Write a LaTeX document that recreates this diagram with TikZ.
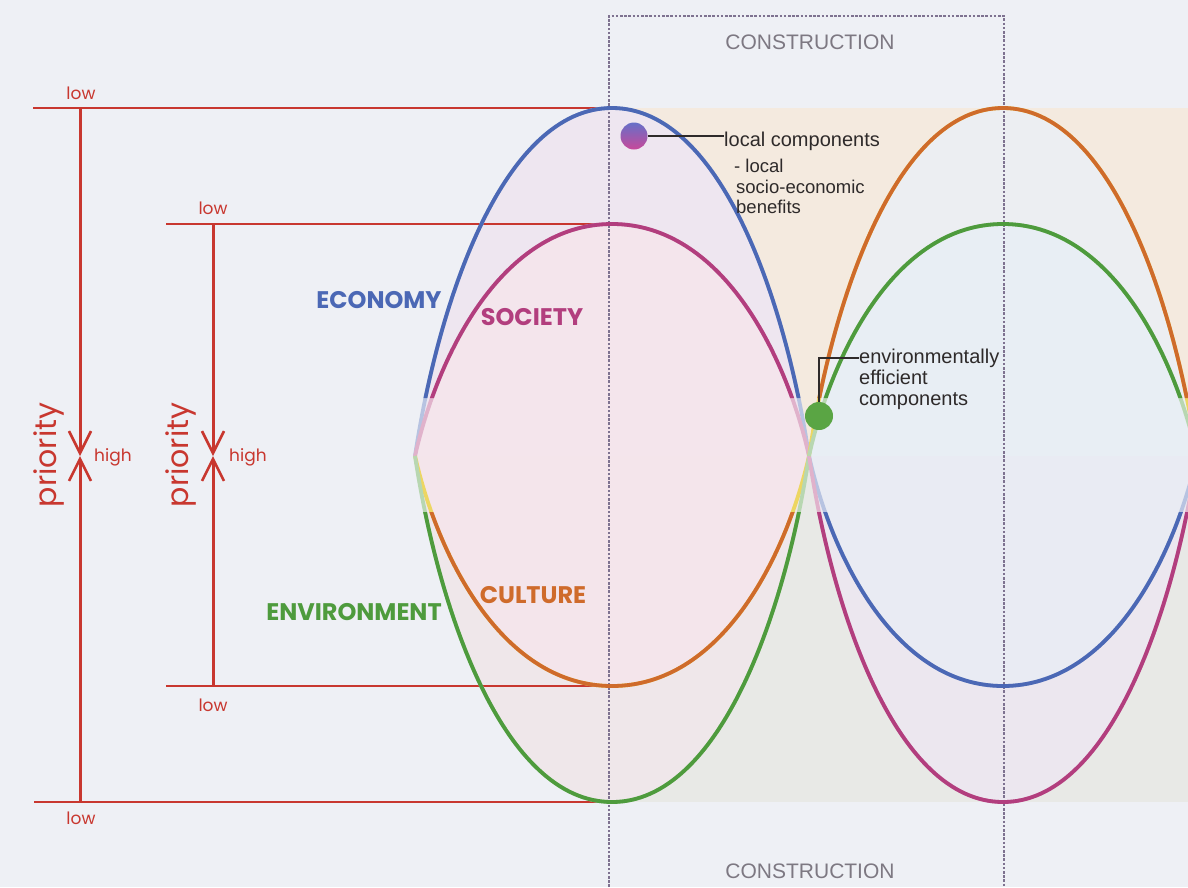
\documentclass[tikz,border=0pt]{standalone}
\usepackage{fontspec}
\setmainfont{Liberation Sans}
\newfontfamily\gothic{Poppins}
\usetikzlibrary{arrows.meta}
\definecolor{cBg}{HTML}{EEF0F5}
\definecolor{cPeach}{HTML}{F4EADF}
\definecolor{cLower}{HTML}{E8E9E6}
\definecolor{cPinkA}{HTML}{EEE6F0}
\definecolor{cPinkB}{HTML}{F4E5EC}
\definecolor{cLowA}{HTML}{EFE7EA}
\definecolor{cLowB}{HTML}{F4E5EB}
\definecolor{cRTopA}{HTML}{ECEEF2}
\definecolor{cRTopB}{HTML}{E8EEF4}
\definecolor{cRLowA}{HTML}{ECE7EF}
\definecolor{cRLowB}{HTML}{E9EBF3}
\definecolor{cRed}{HTML}{C8372F}
\definecolor{cBlue}{HTML}{4B68B5}
\definecolor{cMag}{HTML}{B23E7E}
\definecolor{cOra}{HTML}{CF6B2B}
\definecolor{cGre}{HTML}{4E9B3D}
\definecolor{cFrame}{HTML}{7E7290}
\definecolor{cGrayTxt}{HTML}{7D7882}
\definecolor{cDark}{HTML}{2E2A2A}
\definecolor{cDotTop}{HTML}{6670C8}
\definecolor{cDotBot}{HTML}{C8489A}
\definecolor{cDotGre}{HTML}{5AA544}
\begin{document}
\begin{tikzpicture}[x=1pt,y=-1pt,
  redline/.style={draw=cRed, line width=2.6pt},
  axisarrow/.style={draw=cRed, line width=3pt, -{Straight Barb[length=22pt,width=22pt,line width=2.6pt]}},
  lobe/.style n args={3}{insert path={(#1,456) .. controls ({#1+0.12*#2},{456+0.45*(#3-456)}) and ({#1+0.45*#2},#3) .. ({#1+#2},#3) .. controls ({#1+1.55*#2},#3) and ({#1+1.88*#2},{456+0.45*(#3-456)}) .. ({#1+2*#2},456)}},
  wave/.style={line width=3.8pt},
  frameline/.style={draw=cFrame, line width=2.4pt, dash pattern=on 2.6pt off 1.6pt},
  lowlbl/.style={text=cRed, font=\gothic\fontsize{17}{20}\selectfont, inner sep=0pt},
  prio/.style={text=cRed, font=\gothic\fontsize{30}{34}\selectfont, inner sep=0pt, rotate=90},
  dimlbl/.style={font=\gothic\bfseries\fontsize{24}{28}\selectfont, inner sep=0pt},
  constr/.style={text=cGrayTxt, font=\fontsize{21}{24}\selectfont, inner sep=0pt},
  note/.style={text=cDark, font=\fontsize{20}{23}\selectfont, inner sep=0pt, anchor=base west},
  subnote/.style={text=cDark, font=\fontsize{18.5}{21}\selectfont, inner sep=0pt, anchor=base west},
  leader/.style={draw=cDark, line width=1.4pt}
]
\useasboundingbox (0,0) rectangle (1188,887);
\clip (0,0) rectangle (1188,887);
% background tints
\fill[cBg] (0,0) rectangle (1188,887);
\fill[cPeach] (612,108) rectangle (1188,456);
\fill[cLower] (612,456) rectangle (1188,802);
\fill[cPinkA, lobe={415}{197}{108}] -- cycle;
\fill[cPinkB, lobe={415}{197}{224}] -- cycle;
\fill[cLowA, lobe={415}{197}{802}] -- cycle;
\fill[cLowB, lobe={415}{197}{686}] -- cycle;
\fill[cRTopA, lobe={809}{194}{108}] -- cycle;
\fill[cRTopB, lobe={809}{194}{224}] -- cycle;
\fill[cRLowA, lobe={809}{194}{802}] -- cycle;
\fill[cRLowB, lobe={809}{194}{686}] -- cycle;

% construction frame
\coordinate (fbl) at (609,887);
\coordinate (ftl) at (609,16);
\coordinate (ftr) at (1004,16);
\coordinate (fbr) at (1004,887);
\draw[frameline] (fbl) -- (ftl) -- (ftr) -- (fbr);
\node[constr] (ctop) at (810,42) {CONSTRUCTION};
\node[constr] (cbot) at (810,871) {CONSTRUCTION};

% red priority scales
\coordinate (h1a) at (33,108);  \coordinate (h1b) at (612,108);
\coordinate (h2a) at (166,224); \coordinate (h2b) at (612,224);
\coordinate (h3a) at (166,686); \coordinate (h3b) at (612,686);
\coordinate (h4a) at (34,802);  \coordinate (h4b) at (612,802);
\draw[redline] (h1a) -- (h1b);
\draw[redline] (h2a) -- (h2b);
\draw[redline] (h3a) -- (h3b);
\draw[redline] (h4a) -- (h4b);
\coordinate (v1t) at (80,108); \coordinate (v1m) at (80,456); \coordinate (v1b) at (80,802);
\coordinate (v2t) at (213,224); \coordinate (v2m) at (213,456); \coordinate (v2b) at (213,686);
\draw[axisarrow] (v1t) -- (v1m);
\draw[axisarrow] (v1b) -- (v1m);
\draw[axisarrow] (v2t) -- (v2m);
\draw[axisarrow] (v2b) -- (v2m);
\node[lowlbl] (low1) at (81,93) {low};
\node[lowlbl] (low2) at (213,208) {low};
\node[lowlbl] (low3) at (213,705) {low};
\node[lowlbl] (low4) at (81,818) {low};
\node[lowlbl, anchor=west] (high1) at (94,457) {high};
\node[lowlbl, anchor=west] (high2) at (229,457) {high};
\node[prio] (prio1) at (49,455) {priority};
\node[prio] (prio2) at (181,455) {priority};

% waves: faded full curves
\draw[wave, cBlue!40!white, lobe={415}{197}{108}];
\draw[wave, cMag!40!white, lobe={415}{197}{224}];
\draw[wave, cOra!40!cBg!60!yellow, lobe={415}{197}{686}];
\draw[wave, cGre!40!white, lobe={415}{197}{802}];
\draw[wave, cBlue!40!white, lobe={809}{194}{686}];
\draw[wave, cMag!40!white, lobe={809}{194}{802}];
\draw[wave, cOra!40!cBg!60!yellow, lobe={809}{194}{108}];
\draw[wave, cGre!40!white, lobe={809}{194}{224}];
% bright portions
\begin{scope}
\clip (0,0) rectangle (1188,398) (0,512) rectangle (1188,887);
\draw[wave, cBlue, lobe={415}{197}{108}];
\draw[wave, cMag, lobe={415}{197}{224}];
\draw[wave, cOra, lobe={415}{197}{686}];
\draw[wave, cGre, lobe={415}{197}{802}];
\draw[wave, cBlue, lobe={809}{194}{686}];
\draw[wave, cMag, lobe={809}{194}{802}];
\draw[wave, cOra, lobe={809}{194}{108}];
\draw[wave, cGre, lobe={809}{194}{224}];
\end{scope}

% dimension labels
\node[dimlbl, text=cBlue] (econ) at (379,300) {ECONOMY};
\node[dimlbl, text=cMag] (soc) at (532,317) {SOCIETY};
\node[dimlbl, text=cOra] (cult) at (533,595) {CULTURE};
\node[dimlbl, text=cGre] (env) at (354,612) {ENVIRONMENT};

% local components
\node[circle, inner sep=0pt, minimum size=27pt, top color=cDotTop, bottom color=cDotBot] (dot1) at (634,136) {};
\node[note] (lc) at (724,146) {local components};
\node[subnote] (lc1) at (734,172) {- local};
\node[subnote] (lc2) at (736,193) {socio-economic};
\node[subnote] (lc3) at (736,213) {benefits};
\draw[leader] (dot1.east) -- (dot1.east -| lc.west);

% environmentally efficient components
\node[circle, inner sep=0pt, minimum size=28pt, fill=cDotGre] (dot2) at (819,416) {};
\node[note] (ee1) at (859,363) {environmentally};
\node[note] (ee2) at (859,384) {efficient};
\node[note] (ee3) at (859,405) {components};
\draw[leader] (dot2.north) |- (ee1.west);
\end{tikzpicture}
\end{document}
